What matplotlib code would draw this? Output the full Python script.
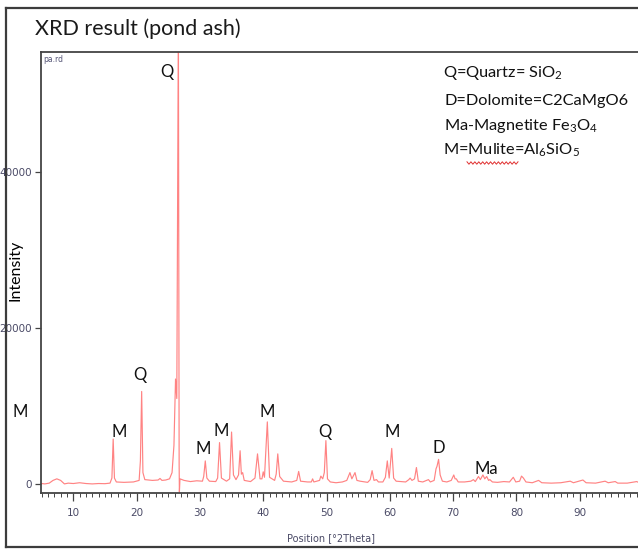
import matplotlib
matplotlib.use("Agg")
import matplotlib.pyplot as plt
from matplotlib.lines import Line2D
import numpy as np

# XRD pattern of pond ash
two_theta = [5.0, 5.5, 6.2, 6.8, 7.4, 8.0, 8.6, 9.2, 10.0, 11.0, 12.0, 13.0, 14.0, 15.0,
             15.8, 16.1, 16.3, 16.5, 16.8, 18.0, 19.5, 20.4, 20.6, 20.8, 21.0, 21.3,
             22.5, 23.4, 23.7, 24.0, 24.6, 25.2, 25.6, 25.9, 26.15, 26.35, 26.6, 26.72,
             26.76, 26.85, 27.5, 28.5, 29.5, 30.4, 30.6, 30.85, 31.1, 31.5, 32.5, 32.8,
             33.1, 33.4, 34.2, 34.7, 35.0, 35.3, 35.7, 36.1, 36.35, 36.55, 36.75, 37.0,
             38.0, 38.7, 39.1, 39.5, 39.8, 40.0, 40.2, 40.65, 41.0, 41.8, 42.05, 42.3,
             42.6, 43.2, 44.5, 45.3, 45.6, 45.9, 47.0, 47.6, 47.8, 48.0, 48.9, 49.1,
             49.4, 49.65, 49.9, 50.15, 50.6, 51.5, 52.5, 53.2, 53.7, 54.0, 54.5, 54.8,
             55.3, 56.5, 56.9, 57.2, 57.5, 57.9, 58.2, 58.9, 59.3, 59.6, 59.9, 60.3,
             60.6, 61.0, 62.5, 63.0, 63.2, 63.5, 63.9, 64.2, 64.5, 65.2, 66.1, 66.4,
             67.0, 67.3, 67.45, 67.7, 67.95, 68.3, 69.0, 69.7, 70.1, 70.3, 70.5, 70.8,
             71.8, 72.8, 73.2, 73.5, 74.0, 74.3, 74.7, 75.0, 75.3, 75.6, 75.8, 76.2,
             77.0, 78.0, 78.9, 79.5, 79.9, 80.5, 80.8, 81.1, 81.5, 82.5, 83.5, 84.0,
             85.5, 87.0, 88.5, 89.0, 90.5, 91.0, 92.5, 94.0, 94.5, 95.6, 96.0, 97.5,
             99.0, 99.5]
intensity = [100, 50, 150, 500, 700, 500, 50, 150, 100, 200, 100, 50, 100, 80,
             150, 800, 5800, 800, 300, 250, 300, 500, 3000, 11900, 1500, 600,
             500, 550, 750, 500, 550, 700, 1500, 5000, 13500, 11000, 60000, 2500,
             -1000, 700, 500, 350, 450, 400, 1000, 3000, 800, 400, 350, 800,
             5350, 800, 400, 700, 6700, 1200, 600, 1200, 4300, 1300, 1500, 500,
             350, 800, 3900, 700, 700, 1600, 900, 8000, 900, 500, 1300, 3900,
             1000, 400, 300, 500, 1650, 400, 300, 300, 700, 300, 500, 1050,
             700, 1500, 5600, 700, 300, 200, 300, 500, 1500, 700, 1500, 500,
             400, 250, 600, 1750, 500, 600, 300, 300, 900, 3000, 800, 4600,
             800, 400, 300, 600, 800, 500, 700, 2150, 400, 300, 600, 300,
             500, 2000, 2300, 3200, 1200, 400, 300, 500, 1200, 700, 700, 300,
             300, 400, 600, 350, 1000, 600, 1200, 700, 1000, 500, 600, 300,
             250, 350, 300, 900, 300, 400, 1050, 800, 300, 200, 500, 200,
             150, 200, 400, 200, 550, 200, 150, 400, 200, 350, 150, 150,
             350, 150]

# phase labels placed over the peaks
peak_labels = ["Q", "M", "Q", "M", "M", "M", "Q", "M", "D", "Ma"]
label_x = [24.8, 17.2, 20.5, 30.5, 33.3, 40.6, 49.8, 60.4, 67.7, 75.3]
label_y = [52900, 6700, 14000, 4530, 6830, 9270, 6700, 6700, 4650, 1960]

legend_lines = ["Q=Quartz= SiO$\\mathregular{_2}$",
                "D=Dolomite=C2CaMgO6",
                "Ma-Magnetite Fe$\\mathregular{_3}$O$\\mathregular{_4}$",
                "M=Mulite=Al$\\mathregular{_6}$SiO$\\mathregular{_5}$"]

plt.rcParams["font.family"] = ["Lato", "DejaVu Sans"]
plt.rcParams["mathtext.fontset"] = "custom"
plt.rcParams["mathtext.rm"] = "Lato"
narrow = ["Liberation Sans Narrow", "DejaVu Sans"]

W, H = 638, 549
fig = plt.figure(figsize=(W / 100, H / 100), dpi=100)
ax = fig.add_axes([41 / W, 1 - 493 / H, (W - 41) / W, (493 - 52) / H])

ax.plot(two_theta, intensity, color="#ff6464", lw=0.85, alpha=0.8)
ax.set_xlim(4.9, 99.2)
ax.set_ylim(-1115, 55420)

ax.set_xticks([10, 20, 30, 40, 50, 60, 70, 80, 90])
ax.set_xticks(np.arange(5, 100, 1), minor=True)
ax.set_yticks([0, 20000, 40000])
for s in ["left", "top", "bottom"]:
    ax.spines[s].set_color("#444444")
    ax.spines[s].set_linewidth(1.3)
ax.spines["right"].set_visible(False)
ax.tick_params(axis="x", which="major", length=6, width=0.9, color="#444444", pad=5)
ax.tick_params(axis="x", which="minor", length=3, width=0.7, color="#444444")
ax.tick_params(axis="y", which="major", length=4.5, width=0.9, color="#444444", pad=2)
for lab in ax.get_xticklabels() + ax.get_yticklabels():
    lab.set_family(narrow)
    lab.set_fontsize(7.5)
    lab.set_color("#4a4a66")

fig.text(43 / W, 1 - 60 / H, "pa.rd", fontsize=5.5, color="#555577", family=narrow, va="center")

for t, x, y in zip(peak_labels, label_x, label_y):
    ax.text(x, y, t, fontsize=12, ha="center", va="center", color="#111111")

# texts on the slide
fig.text(35 / W, 1 - 35 / H, "XRD result (pond ash)", fontsize=15.5, va="baseline", color="#1a1a1a")
fig.text(15 / W, 1 - 270 / H, "Intensity", rotation=90, fontsize=11.5, ha="center", va="center")
fig.text(20 / W, 1 - 412 / H, "M", fontsize=12, ha="center", va="center", color="#111111")
fig.text(331 / W, 1 - 538 / H, "Position [°2Theta]", fontsize=7, family=narrow,
         ha="center", va="center", color="#4a4a66")

bases = [77.5, 105, 130, 155]
lefts = [443, 444, 444, 443]
for txt, b, l in zip(legend_lines, bases, lefts):
    fig.text(l / W, 1 - b / H, txt, fontsize=11.8, va="baseline", color="#111111")

# spell-check squiggle under "Mulite"
sx = np.linspace(467, 518, 27)
sy = 163 + np.where(np.arange(27) % 2 == 0, -1.2, 1.2)
fig.add_artist(Line2D(sx / W, 1 - sy / H, color="#e03030", lw=0.7))

# slide frame
fc = "#3c3c3c"
fig.add_artist(Line2D([6 / W, 6 / W], [1 - 8 / H, 1 - 547 / H], color=fc, lw=1.6))
fig.add_artist(Line2D([6 / W, 1], [1 - 8 / H, 1 - 8 / H], color=fc, lw=1.6))
fig.add_artist(Line2D([6 / W, 1], [1 - 547 / H, 1 - 547 / H], color=fc, lw=1.6))

fig.savefig("out.png", dpi=100)
